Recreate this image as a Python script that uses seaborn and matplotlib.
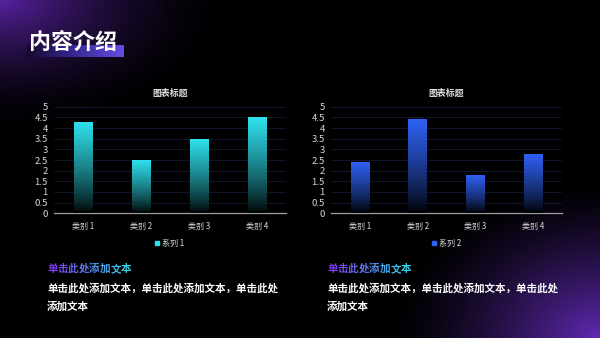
import numpy as np
import pandas as pd
import matplotlib
matplotlib.use("Agg")
import matplotlib.pyplot as plt
import seaborn as sns
from matplotlib.colors import LinearSegmentedColormap, to_rgb

# ---- data ----
categories = ["类别 1", "类别 2", "类别 3", "类别 4"]
series1 = [4.3, 2.5, 3.5, 4.5]
series2 = [2.4, 4.4, 1.8, 2.8]
series_names = ["系列 1", "系列 2"]
yticks = [0, 0.5, 1, 1.5, 2, 2.5, 3, 3.5, 4, 4.5, 5]
ytick_labels = ["0", "0.5", "1", "1.5", "2", "2.5", "3", "3.5", "4", "4.5", "5"]
chart_title = "图表标题"
page_title = "内容介绍"
sub_heading = "单击此处添加文本"
body_line1 = "单击此处添加文本，单击此处添加文本，单击此处"
body_line2 = "添加文本"

sns.set_theme(style="dark")
plt.rcParams["font.family"] = ["Noto Sans CJK SC", "DejaVu Sans"]

W, H = 600, 338
fig = plt.figure(figsize=(6, 3.38), dpi=100)
fig.patch.set_facecolor("black")

# ---- background glow ----
bg = fig.add_axes([0, 0, 1, 1], zorder=-10)
yy, xx = np.mgrid[0:H, 0:W]
img = np.zeros((H, W, 3))
d1 = np.sqrt((xx / 230.0) ** 2 + (yy / 130.0) ** 2)
g1 = np.clip(1 - d1, 0, 1) ** 1.7
d2 = np.sqrt(((W - xx) / 210.0) ** 2 + ((H - yy) / 160.0) ** 2)
g2 = np.clip(1 - d2, 0, 1) ** 1.4
c1 = np.array([0x56, 0x22, 0x9e]) / 255.0
c2 = np.array([0x60, 0x2a, 0xb4]) / 255.0
img += g1[..., None] * c1 + g2[..., None] * c2
img = np.clip(img, 0, 1)
bg.imshow(img, extent=[0, W, H, 0], aspect="auto")
bg.set_xlim(0, W)
bg.set_ylim(H, 0)
bg.axis("off")

# title bar gradient
bar_grad = np.linspace(0, 1, 100)[None, :]
cmap_bar = LinearSegmentedColormap.from_list("tb", ["#160a30", "#3a2c9c", "#6a52ee"])
bg.imshow(bar_grad, extent=[27, 124, 57, 45], cmap=cmap_bar, aspect="auto", alpha=0.95, zorder=2)
bg.text(29, 42, page_title, color="white", fontsize=15.8, fontweight="bold",
        va="center", ha="left", zorder=3)

# bottom texts
fs = 7.6
char_px = fs * 100 / 72.0
c_start = np.array(to_rgb("#7a3cf0"))
c_end = np.array(to_rgb("#3ad0e8"))
for x0 in (47, 327):
    n = len(sub_heading)
    for i, ch in enumerate(sub_heading):
        t = i / (n - 1)
        col = tuple(c_start * (1 - t) + c_end * t)
        bg.text(x0 + i * char_px, 269, ch, color=col, fontsize=fs, fontweight="bold",
                va="center", ha="left")
    bg.text(x0, 288, body_line1, color="white", fontsize=fs, fontweight="bold",
            va="center", ha="left")
    bg.text(x0, 306, body_line2, color="white", fontsize=fs, fontweight="bold",
            va="center", ha="left")


def draw_chart(rect, values, series_name, top_color):
    ax = fig.add_axes(rect)
    df = pd.DataFrame({"cat": categories, "val": values})
    sns.barplot(data=df, x="cat", y="val", ax=ax, color=top_color, width=0.32,
                saturation=1, label=series_name)
    ax.set_facecolor("none")
    ax.set_ylim(0, 5)
    ax.set_xlim(-0.5, 3.5)
    ax.set_yticks(yticks)
    ax.set_yticklabels(ytick_labels)
    ax.tick_params(axis="y", colors="#d8d8d8", labelsize=6.8, length=0, pad=4.5)
    ax.tick_params(axis="x", colors="#d8d8d8", labelsize=5.8, length=0, pad=6)
    ax.set_xlabel("")
    ax.set_ylabel("")
    ax.grid(axis="y", color="#111a30", linewidth=0.6)
    ax.grid(axis="x", visible=False)
    for s in ["top", "right", "left"]:
        ax.spines[s].set_visible(False)
    ax.spines["bottom"].set_color("#a0a0a0")
    ax.spines["bottom"].set_linewidth(0.9)
    ax.set_title(chart_title, color="#e0e0e0", fontsize=6.4, fontweight="bold", pad=8)
    # gradient fill on bars
    cmap = LinearSegmentedColormap.from_list("g", ["#000000", top_color])
    grad = np.linspace(0, 1, 256)[:, None]
    for p in list(ax.patches):
        x0, y0 = p.get_x(), p.get_y()
        w, h = p.get_width(), p.get_height()
        p.set_alpha(0)
        im = ax.imshow(grad ** 0.8, extent=[x0, x0 + w, y0, y0 + h], origin="lower",
                       cmap=cmap, aspect="auto", zorder=3, vmin=0, vmax=1)
        clip = plt.Rectangle((x0, y0), w, h, transform=ax.transData)
        im.set_clip_path(clip)
    ax.set_xlim(-0.5, 3.5)
    ax.set_ylim(0, 5)
    leg = ax.legend(loc="upper center", bbox_to_anchor=(0.5, -0.17), frameon=False,
                    fontsize=5.8, handlelength=0.45, handleheight=0.45, handletextpad=0.4,
                    labelcolor="#d8d8d8")
    for hnd in leg.legend_handles:
        hnd.set_alpha(1)
        hnd.set_color(top_color)
    return ax


draw_chart([54 / W, 1 - 213.3 / H, 232 / W, 106.6 / H], series1, series_names[0], "#2fe3f0")
draw_chart([331 / W, 1 - 213.3 / H, 231 / W, 106.6 / H], series2, series_names[1], "#2f62f5")

fig.savefig("out.png", dpi=100, facecolor="black")
